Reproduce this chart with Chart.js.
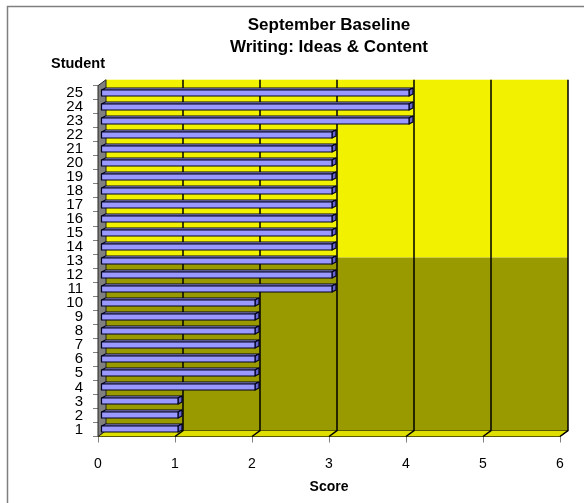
<!DOCTYPE html>
<html>
<head>
<meta charset="utf-8">
<title>September Baseline</title>
<script src="https://cdn.jsdelivr.net/npm/chart.js@4.4.1/dist/chart.umd.min.js"></script>
<style>
  html, body { margin: 0; padding: 0; background: #fff; }
  canvas { display: block; }
</style>
</head>
<body>
<canvas id="scoreChart" width="584" height="503"></canvas>
<script>
const students = ['1', '2', '3', '4', '5', '6', '7', '8', '9', '10', '11', '12', '13',
                  '14', '15', '16', '17', '18', '19', '20', '21', '22', '23', '24', '25'];
const scores = [1, 1, 1, 2, 2, 2, 2, 2, 2, 2, 3, 3, 3, 3, 3, 3, 3, 3, 3, 3, 3, 3, 4, 4, 4];
const scoreTicks = [0, 1, 2, 3, 4, 5, 6];

// fake 3D depth of the plot box (back wall is pushed right and up)
const DEPTH_X = 8, DEPTH_Y = -6;
const wallYellow = '#f2f200', wallOlive = '#999900', floorYellow = '#dede00', sideGray = '#808080';
const barFront = '#9999ff', barTop = '#b3b3ff', barEnd = '#6666cc', barEdge = '#000020';

Chart.defaults.font.family = "'Liberation Sans', Arial, sans-serif";
Chart.defaults.color = '#000';

function poly(ctx, pts, fill) {
  ctx.beginPath();
  ctx.moveTo(pts[0][0], pts[0][1]);
  for (let i = 1; i < pts.length; i++) ctx.lineTo(pts[i][0], pts[i][1]);
  ctx.closePath();
  ctx.fillStyle = fill;
  ctx.fill();
  ctx.stroke();
}

const box3d = {
  id: 'box3d',
  beforeDraw(chart) {
    const {ctx, width, height} = chart;
    ctx.save();
    ctx.fillStyle = '#fff';
    ctx.fillRect(0, 0, width, height);
    // outer frame
    ctx.strokeStyle = '#7f7f7f';
    ctx.lineWidth = 1.5;
    ctx.beginPath();
    ctx.moveTo(7.5, height);
    ctx.lineTo(7.5, 6.5);
    ctx.lineTo(width, 6.5);
    ctx.stroke();
    ctx.restore();
  },
  beforeDatasetsDraw(chart) {
    const {ctx, chartArea: a, scales: {x}} = chart;
    const x0 = a.left, x1 = a.right, top = a.top, bot = a.bottom;
    const wTop = top + DEPTH_Y, wBot = bot + DEPTH_Y;
    const split = wTop + (wBot - wTop) * 0.507;
    ctx.save();
    // back wall: yellow upper half, olive lower half
    ctx.fillStyle = wallYellow;
    ctx.fillRect(x0 + DEPTH_X, wTop, x1 - x0, split - wTop);
    ctx.fillStyle = wallOlive;
    ctx.fillRect(x0 + DEPTH_X, split, x1 - x0, wBot - split);
    // floor
    ctx.strokeStyle = '#5a5a00';
    ctx.lineWidth = 1;
    poly(ctx, [[x0, bot], [x1, bot], [x1 + DEPTH_X, wBot], [x0 + DEPTH_X, wBot]], floorYellow);
    // gridlines on the wall, bending down across the floor
    ctx.strokeStyle = '#000';
    ctx.lineWidth = 1.5;
    scoreTicks.forEach(v => {
      if (v === 0) return;
      const px = x.getPixelForValue(v);
      ctx.beginPath();
      ctx.moveTo(px + DEPTH_X, wTop);
      ctx.lineTo(px + DEPTH_X, wBot);
      ctx.lineTo(px, bot);
      ctx.stroke();
    });
    // left side wall
    ctx.strokeStyle = '#222';
    ctx.lineWidth = 1;
    poly(ctx, [[x0, top], [x0 + DEPTH_X, wTop], [x0 + DEPTH_X, wBot], [x0, bot]], sideGray);
    ctx.restore();
  },
  afterDatasetsDraw(chart) {
    const {ctx} = chart;
    const meta = chart.getDatasetMeta(0);
    ctx.save();
    ctx.lineWidth = 1.2;
    ctx.strokeStyle = barEdge;
    ctx.lineJoin = 'round';
    meta.data.forEach(bar => {
      const l = bar.base + 3, r = bar.x + 3;
      const t = Math.round(bar.y) - 3, b = Math.round(bar.y) + 3;
      const dx = 4, dy = -2;
      poly(ctx, [[l, t], [l + dx, t + dy], [r + dx, t + dy], [r, t]], barTop);
      poly(ctx, [[r, t], [r + dx, t + dy], [r + dx, b + dy], [r, b]], barEnd);
      poly(ctx, [[l, t], [r, t], [r, b], [l, b]], barFront);
    });
    ctx.restore();
  },
  afterDraw(chart) {
    const {ctx} = chart;
    ctx.save();
    ctx.font = "bold 14.5px 'Liberation Sans', Arial, sans-serif";
    ctx.fillStyle = '#000';
    ctx.textBaseline = 'middle';
    ctx.fillText('Student', 51, 64);
    ctx.restore();
  }
};

new Chart(document.getElementById('scoreChart'), {
  type: 'bar',
  data: {
    labels: students,
    datasets: [{
      label: 'Score',
      data: scores,
      backgroundColor: 'rgba(0,0,0,0)',
      borderWidth: 0,
      barThickness: 6
    }]
  },
  options: {
    responsive: false,
    animation: false,
    indexAxis: 'y',
    layout: { padding: { top: 0, left: 0, right: 24, bottom: 0 } },
    plugins: {
      legend: { display: false },
      tooltip: { enabled: false },
      title: {
        display: true,
        fullSize: false,
        text: ['September Baseline', 'Writing: Ideas & Content'],
        color: '#000',
        font: { size: 17, weight: 'bold', lineHeight: 1.3 },
        padding: { top: 14, bottom: 27.5 }
      }
    },
    scales: {
      x: {
        type: 'linear',
        min: scoreTicks[0],
        max: scoreTicks[scoreTicks.length - 1],
        ticks: { stepSize: 1, font: { size: 14 }, padding: 13 },
        grid: { drawOnChartArea: false, tickLength: 6, color: '#808080' },
        border: { display: false },
        title: { display: true, text: 'Score', font: { size: 14, weight: 'bold' }, padding: { top: 4, bottom: 7.6 } },
        afterFit(scale) { scale.height = 66.5; }
      },
      y: {
        reverse: true,
        ticks: { font: { size: 15, lineHeight: 1 }, padding: 10, autoSkip: false },
        grid: { drawOnChartArea: false, tickLength: 5, color: '#808080', offset: true },
        border: { display: false },
        afterFit(scale) { scale.width = 98; }
      }
    }
  },
  plugins: [box3d]
});
</script>
</body>
</html>
